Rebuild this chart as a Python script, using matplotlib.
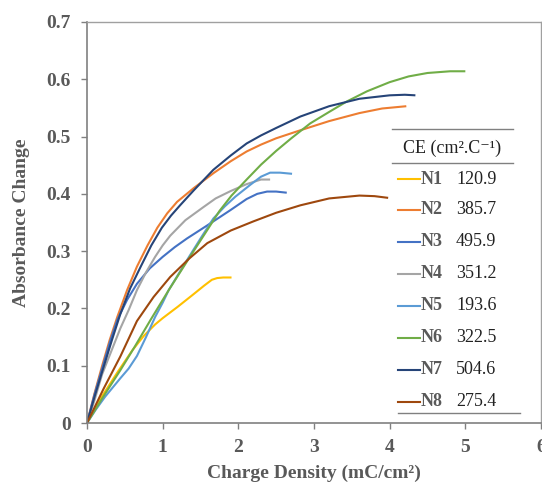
import matplotlib
matplotlib.use("Agg")
import matplotlib.pyplot as plt
from matplotlib.lines import Line2D

# ---- data ----
names = ["N1", "N2", "N3", "N4", "N5", "N6", "N7", "N8"]
ce_values = ["120.9", "385.7", "495.9", "351.2", "193.6", "322.5", "504.6", "275.4"]

n1_x = [0, 0.19, 0.41, 0.6, 0.75, 0.81, 0.9, 1.0, 1.2, 1.4, 1.55, 1.65, 1.72, 1.8, 1.91]
n1_y = [0, 0.045, 0.09, 0.127, 0.152, 0.16, 0.172, 0.183, 0.203, 0.224, 0.24, 0.25, 0.253, 0.254, 0.254]

n2_x = [0, 0.1, 0.2, 0.3, 0.4, 0.53, 0.66, 0.8, 0.93, 1.06, 1.19, 1.41, 1.67, 1.9, 2.11,
        2.3, 2.5, 2.82, 3.2, 3.6, 3.9, 4.22]
n2_y = [0, 0.052, 0.1, 0.145, 0.185, 0.232, 0.273, 0.31, 0.341, 0.366, 0.386, 0.41, 0.436,
        0.457, 0.474, 0.486, 0.497, 0.511, 0.527, 0.541, 0.549, 0.553]

n3_x = [0, 0.1, 0.2, 0.3, 0.4, 0.53, 0.66, 0.83, 1.0, 1.16, 1.32, 1.59, 1.9, 2.11, 2.25,
        2.38, 2.5, 2.64]
n3_y = [0, 0.05, 0.095, 0.14, 0.18, 0.215, 0.243, 0.27, 0.29, 0.307, 0.322, 0.345, 0.372,
        0.391, 0.4, 0.404, 0.404, 0.402]

n4_x = [0, 0.1, 0.2, 0.32, 0.44, 0.55, 0.66, 0.78, 0.9, 1.0, 1.1, 1.3, 1.54, 1.7, 1.9,
        2.11, 2.3, 2.42]
n4_y = [0, 0.04, 0.085, 0.125, 0.165, 0.197, 0.232, 0.263, 0.29, 0.31, 0.327, 0.354, 0.377,
        0.392, 0.405, 0.417, 0.425, 0.425]

n5_x = [0, 0.12, 0.24, 0.34, 0.44, 0.55, 0.66, 0.78, 0.9, 1.0, 1.08, 1.2, 1.32, 1.5, 1.67,
        1.82, 1.96, 2.16, 2.3, 2.42, 2.55, 2.71]
n5_y = [0, 0.024, 0.046, 0.062, 0.078, 0.095, 0.117, 0.15, 0.185, 0.21, 0.232, 0.258, 0.284,
        0.322, 0.357, 0.378, 0.395, 0.416, 0.43, 0.437, 0.437, 0.435]

n6_x = [0, 0.22, 0.44, 0.63, 0.84, 1.08, 1.36, 1.59, 1.75, 1.91, 2.11, 2.3, 2.5, 2.7, 2.95,
        3.2, 3.43, 3.7, 4.0, 4.25, 4.5, 4.8, 5.0]
n6_y = [0, 0.047, 0.092, 0.133, 0.18, 0.232, 0.29, 0.337, 0.37, 0.397, 0.425, 0.451, 0.475,
        0.497, 0.523, 0.543, 0.561, 0.579, 0.595, 0.605, 0.611, 0.614, 0.614]

n7_x = [0, 0.1, 0.22, 0.33, 0.44, 0.57, 0.71, 0.85, 0.99, 1.11, 1.23, 1.41, 1.67, 1.9, 2.11,
        2.3, 2.5, 2.82, 3.2, 3.6, 4.0, 4.2, 4.34]
n7_y = [0, 0.046, 0.098, 0.145, 0.19, 0.235, 0.273, 0.31, 0.341, 0.362, 0.38, 0.406, 0.442,
        0.467, 0.488, 0.502, 0.515, 0.535, 0.553, 0.566, 0.572, 0.573, 0.572]

n8_x = [0, 0.22, 0.44, 0.66, 0.88, 1.1, 1.35, 1.59, 1.9, 2.2, 2.5, 2.82, 3.2, 3.6, 3.8, 3.98]
n8_y = [0, 0.06, 0.116, 0.178, 0.22, 0.255, 0.287, 0.314, 0.336, 0.352, 0.367, 0.38, 0.392,
        0.397, 0.396, 0.393]

x_ticks = [0, 1, 2, 3, 4, 5, 6]
y_ticks = [0, 0.1, 0.2, 0.3, 0.4, 0.5, 0.6, 0.7]
y_tick_labels = ["0", "0.1", "0.2", "0.3", "0.4", "0.5", "0.6", "0.7"]

series = [(n1_x, n1_y), (n2_x, n2_y), (n3_x, n3_y), (n4_x, n4_y),
          (n5_x, n5_y), (n6_x, n6_y), (n7_x, n7_y), (n8_x, n8_y)]
colors = ["#FFC000", "#ED7D31", "#4472C4", "#A5A5A5",
          "#5B9BD5", "#70AD47", "#264478", "#9E480E"]

serif = ["Liberation Serif", "DejaVu Serif"]
gray_txt = "#595959"

fig = plt.figure(figsize=(5.42, 4.83), dpi=100)
ax = fig.add_axes([87 / 542, 60 / 483, 454 / 542, 401 / 483])

for (xs, ys), c in zip(series, colors):
    ax.plot(xs, ys, color=c, lw=1.5, solid_capstyle="butt", solid_joinstyle="round")

ax.set_xlim(0, 6)
ax.set_ylim(0, 0.7)
ax.set_xticks(x_ticks)
ax.set_yticks(y_ticks)
ax.set_xticklabels([str(v) for v in x_ticks], fontfamily=serif, fontweight="bold",
                   fontsize=14, color=gray_txt)
ax.set_yticklabels(y_tick_labels, fontfamily=serif, fontweight="bold",
                   fontsize=14, color=gray_txt)
ax.tick_params(axis="both", direction="out", length=4.5, width=1, color="#808080", pad=7)

for s in ["left", "bottom"]:
    ax.spines[s].set_color("#808080")
    ax.spines[s].set_linewidth(1.2)
for s in ["top", "right"]:
    ax.spines[s].set_color("#A0A0A0")
    ax.spines[s].set_linewidth(1.0)

ax.set_xlabel("Charge Density (mC/cm²)", fontfamily=serif, fontweight="bold",
              fontsize=14, color=gray_txt, labelpad=6)
ax.set_ylabel("Absorbance Change", fontfamily=serif, fontweight="bold",
              fontsize=14, color=gray_txt, labelpad=12)

# ---- table-like legend (figure pixel coordinates converted to fraction) ----
W, H = 542, 483
def fx(px):
    return px / W
def fy(py):
    return 1 - py / H

fig.add_artist(Line2D([fx(392), fx(513)], [fy(129), fy(129)], color="#808080", lw=1))
fig.add_artist(Line2D([fx(392), fx(513)], [fy(163), fy(163)], color="#808080", lw=1))
fig.add_artist(Line2D([fx(398), fx(520)], [fy(413), fy(413)], color="#808080", lw=1))
fig.text(fx(452), fy(148), "CE (cm².C⁻¹)", fontfamily=serif, fontsize=13,
         color="#222222", ha="center", va="center")

row_y = [179, 210, 242, 274, 306, 338, 370, 402]
for name, val, c, ry in zip(names, ce_values, colors, row_y):
    fig.add_artist(Line2D([fx(398), fx(420)], [fy(ry), fy(ry)], color=c, lw=1.5))
    fig.text(fx(421), fy(ry), name, fontfamily=serif, fontweight="bold", fontsize=13,
             color=gray_txt, ha="left", va="center")
    fig.text(fx(456), fy(ry), val, fontfamily=serif, fontsize=13,
             color="#222222", ha="left", va="center")

fig.savefig("out.png", dpi=100)
